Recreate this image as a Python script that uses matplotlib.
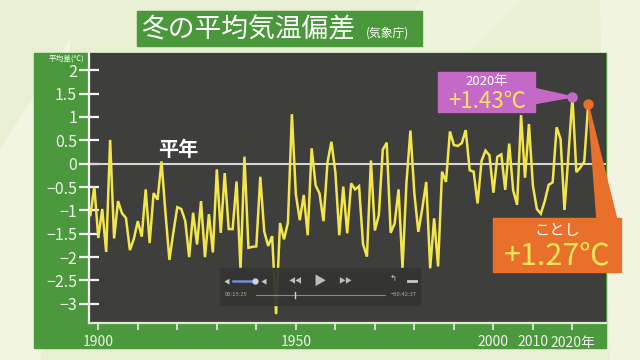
import matplotlib
matplotlib.use('Agg')
import matplotlib.pyplot as plt
from matplotlib.patches import Rectangle, Polygon

plt.rcParams['font.family'] = ['Noto Sans CJK JP', 'DejaVu Sans']

# ---------------- data ----------------
years = list(range(1898, 2025))
anomaly = [
    -1.10, -0.49, -1.59, -0.97, -1.89, 0.51, -1.60, -0.80, -1.06, -1.16,   # 1898-1907
    -1.85, -1.61, -1.23, -1.56, -0.55, -1.70, -0.63, -0.77, 0.05, -1.05,   # 1908-1917
    -2.06, -1.47, -0.93, -0.97, -1.22, -2.00, -1.05, -1.73, -0.80, -2.00,  # 1918-1927
    -1.08, -1.90, -0.12, -1.48, -0.20, -1.40, -1.40, -0.38, -2.27, 0.15,   # 1928-1937
    -1.80, -1.78, -1.77, -0.28, -1.45, -1.76, -1.55, -3.22, -1.27, -1.62,  # 1938-1947
    -1.26, 1.06, -0.65, -1.21, -0.67, -1.53, 0.33, -0.46, -0.64, -1.23,    # 1948-1957
    0.02, 0.47, -0.18, -1.53, -0.49, -1.49, -0.42, -0.55, -0.48, -1.72,    # 1958-1967
    -1.99, 0.07, -1.43, -1.10, 0.30, 0.45, -1.48, -1.28, -0.55, -2.24,     # 1968-1977
    -0.40, 0.71, -0.64, -1.46, -0.96, -0.39, -2.24, -1.17, -2.20, -0.17,   # 1978-1987
    -0.39, 0.69, 0.40, 0.38, 0.44, 0.72, -0.14, -0.17, -0.85, 0.06,        # 1988-1997
    0.28, 0.18, -0.62, 0.15, 0.20, -0.56, 0.43, -0.57, -0.88, 1.04,        # 1998-2007
    -0.30, 0.85, -0.47, -0.97, -1.07, -0.80, -0.45, -0.40, 0.78, 0.53,     # 2008-2017
    -0.99, 0.20, 1.43, -0.18, -0.08, 0.05, 1.27,                           # 2018-2024
]
x_ticks = [1900, 1910, 1920, 1930, 1940, 1950, 1960, 1970, 1980, 1990, 2000, 2010, 2020]
x_tick_labels = ['1900', '', '', '', '', '1950', '', '', '', '', '2000', '2010', '2020年']
y_ticks = [2, 1.5, 1, 0.5, 0, -0.5, -1, -1.5, -2, -2.5, -3]
y_tick_labels = ['2', '1.5', '1', '0.5', '0', '−0.5', '−1', '−1.5', '−2', '−2.5', '−3']
title = '冬の平均気温偏差'
source = '(気象庁)'
ylabel = '平均差(℃)'
hl_2020 = (2020, 1.43, '2020年', '+1.43℃')
hl_now = (2024, 1.27, 'ことし', '+1.27℃')

# ---------------- layout ----------------
W, H = 640, 360
fig = plt.figure(figsize=(6.4, 3.6), dpi=100)

bg = fig.add_axes([0, 0, 1, 1], zorder=0)
bg.set_xlim(0, W); bg.set_ylim(H, 0); bg.axis('off')
bg.add_patch(Rectangle((0, 0), W, H, color='#e8efd2'))
bg.add_patch(Polygon([(0, 150), (70, 40), (40, 360), (0, 360)], color='#f1f5e2'))
bg.add_patch(Polygon([(600, 0), (640, 0), (640, 360), (610, 360)], color='#f0f4e0'))
bg.add_patch(Polygon([(420, 0), (520, 0), (470, 50), (400, 50)], color='#eef3dc'))
# green frame
bg.add_patch(Rectangle((34, 53), 606 - 34, 348 - 53, color='#4b993c'))
# title box
bg.add_patch(Rectangle((137, 11), 422 - 137, 46 - 11, color='#4a983b'))

# ---------------- data axes ----------------
L, R, T, B = 89, 606, 53, 323
ax = fig.add_axes([L / W, 1 - B / H, (R - L) / W, (B - T) / H], zorder=1)
ax.set_facecolor('#3e3e3c')
ax.set_xlim(1897.65, 2028.5)
ax.set_ylim(-3.41, 2.37)
for s in ['top', 'right']:
    ax.spines[s].set_visible(False)
ax.spines['left'].set_color('#f4f4f4'); ax.spines['left'].set_linewidth(1.6)
ax.spines['bottom'].set_color('#dfe9d2'); ax.spines['bottom'].set_linewidth(1.6)

ax.set_yticks(y_ticks)
ax.set_yticklabels(y_tick_labels)
ax.tick_params(axis='y', direction='inout', length=15, width=1.6, color='#f4f4f4',
               labelsize=11.5, labelcolor='#f0f2ec', pad=1)
ax.set_xticks(x_ticks)
ax.set_xticklabels(x_tick_labels)
ax.tick_params(axis='x', direction='out', length=5, width=1.2, color='#e8ede0',
               labelsize=10, labelcolor='#f0f2ec', pad=4)

ax.axhline(0, color='#d6d6d6', lw=1.5, zorder=2)
ax.plot(years, anomaly, color='#f3e64c', lw=1.8, zorder=3, solid_joinstyle='miter')
ax.plot(hl_2020[0], hl_2020[1], 'o', color='#c46ac6', ms=6.5, zorder=5)
ax.plot(hl_now[0], hl_now[1], 'o', color='#e8702a', ms=6.5, zorder=5)

def to_px(x, y):
    dx, dy = ax.transData.transform((x, y))
    return dx, H - dy

# ---------------- overlay ----------------
ov = fig.add_axes([0, 0, 1, 1], zorder=10)
ov.set_xlim(0, W); ov.set_ylim(H, 0); ov.axis('off')
ov.patch.set_alpha(0)

ov.text(141, 29.5, title, fontsize=19.3, color='white', ha='left', va='center')
ov.text(366, 33, source, fontsize=8.5, color='white', ha='left', va='center')
ov.text(66, 59, ylabel, fontsize=5.5, color='white', ha='center', va='center')
ov.text(178, 149, '平年', fontsize=14.5, fontweight='bold', color='white',
        ha='center', va='center')

# media player overlay
ov.add_patch(Rectangle((220, 268), 200, 37, color='#343433', alpha=0.94))
ov.plot([233, 255], [281, 281], color='#6f8fd0', lw=1.8)
ov.plot([255], [281], 'o', color='#c8d4f0', ms=3.5)
ov.text(227, 281, '◀', fontsize=4.5, color='#c8c8c8', ha='center', va='center')
ov.text(264, 281, '◀', fontsize=4.5, color='#c8c8c8', ha='center', va='center')
ov.text(296, 281, '◀◀', fontsize=5, color='#bdbdbd', ha='center', va='center')
ov.text(320, 281, '▶', fontsize=9, color='#bdbdbd', ha='center', va='center')
ov.text(345, 281, '▶▶', fontsize=5, color='#bdbdbd', ha='center', va='center')
ov.text(393, 279, '↰', fontsize=6, color='#c8c8c8', ha='center', va='center')
ov.plot([408, 416], [281, 281], color='#c8c8c8', lw=2)
ov.plot([256, 385], [295, 295], color='#8a8a8a', lw=0.8)
ov.plot([295, 295], [292, 298], color='#d0d0d0', lw=1)
ov.text(225, 295, '00:15:25', fontsize=4.2, color='#a8a8a8', ha='left', va='center')
ov.text(417, 295, '−00:42:37', fontsize=4.2, color='#a8a8a8', ha='right', va='center')

# 2020 callout
px, py = to_px(hl_2020[0], hl_2020[1])
ov.add_patch(Polygon([(533, 88), (533, 104), (px, py)], color='#c46ac6'))
ov.add_patch(Rectangle((438, 72), 97, 40, color='#c46ac6'))
ov.text(487, 81, hl_2020[2], fontsize=9.5, color='white', ha='center', va='center')
ov.text(487, 101, hl_2020[3], fontsize=16, color='#f6e45a', ha='center', va='center')

# this-year callout
qx, qy = to_px(hl_now[0], hl_now[1])
ov.add_patch(Polygon([(qx, qy), (597, 220), (617, 220)], color='#e8702a'))
ov.add_patch(Rectangle((493, 218), 128, 54, color='#e8702a'))
ov.text(557, 231, hl_now[2], fontsize=11, color='white', ha='center', va='center')
ov.text(557, 256, hl_now[3], fontsize=22, color='#f6e45a', ha='center', va='center')

fig.savefig('out.png', dpi=100)
